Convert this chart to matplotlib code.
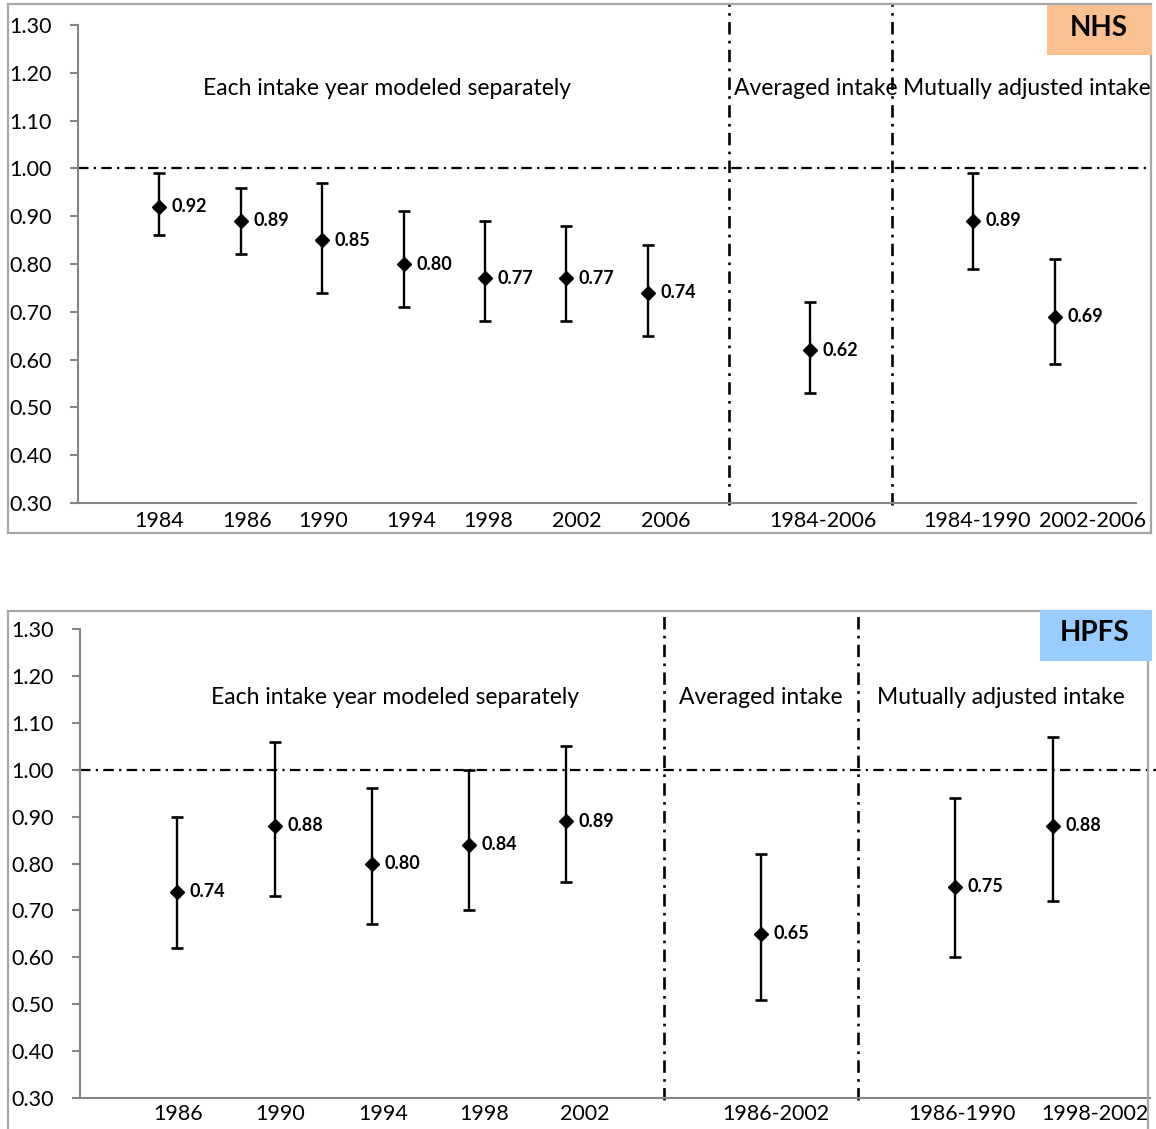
import matplotlib
matplotlib.use("Agg")
import matplotlib.pyplot as plt
from matplotlib.patches import Rectangle

plt.rcParams['font.family'] = ['Lato', 'DejaVu Sans']

# --- Data: hazard ratios with 95% CI ---
nhs_labels = ['1984', '1986', '1990', '1994', '1998', '2002', '2006',
              '1984-2006', '1984-1990', '2002-2006']
nhs_groups = [7, 1, 2]
nhs_hr = [0.92, 0.89, 0.85, 0.80, 0.77, 0.77, 0.74, 0.62, 0.89, 0.69]
nhs_lo = [0.86, 0.82, 0.74, 0.71, 0.68, 0.68, 0.65, 0.53, 0.79, 0.59]
nhs_hi = [0.99, 0.96, 0.97, 0.91, 0.89, 0.88, 0.84, 0.72, 0.99, 0.81]

hpfs_labels = ['1986', '1990', '1994', '1998', '2002',
               '1986-2002', '1986-1990', '1998-2002']
hpfs_groups = [5, 1, 2]
hpfs_hr = [0.74, 0.88, 0.80, 0.84, 0.89, 0.65, 0.75, 0.88]
hpfs_lo = [0.62, 0.73, 0.67, 0.70, 0.76, 0.51, 0.60, 0.72]
hpfs_hi = [0.90, 1.06, 0.96, 1.00, 1.05, 0.82, 0.94, 1.07]

section_titles = ['Each intake year modeled separately', 'Averaged intake',
                  'Mutually adjusted intake']
yticks = [0.30, 0.40, 0.50, 0.60, 0.70, 0.80, 0.90, 1.00, 1.10, 1.20, 1.30]

W, H = 1156, 1129
GRAY = '#868686'
DASHDOT = (0, (4.7, 2.4, 1, 2.4))

fig = plt.figure(figsize=(W / 100, H / 100), dpi=100)


def px_axes(l, t, r, b):
    return fig.add_axes([l / W, 1 - b / H, (r - l) / W, (b - t) / H])


def slot_positions(groups):
    # one category slot per estimate, an empty slot (divider) between groups
    pos, dividers, x = [], [], 1
    for i, n in enumerate(groups):
        pos += list(range(x, x + n))
        x += n
        if i < len(groups) - 1:
            dividers.append(x)
            x += 1
    return pos, dividers, x


def draw_panel(ax, labels, groups, hr, lo, hi, ref_end, div_top, xpad, shifts):
    pos, dividers, xmax = slot_positions(groups)
    ax.set_xlim(0, xmax)
    ax.set_ylim(0.3, 1.3)
    err = [[h - l for h, l in zip(hr, lo)], [u - h for h, u in zip(hr, hi)]]
    ax.errorbar(pos, hr, yerr=err, fmt='D', color='black', ms=7.5,
                elinewidth=1.7, capsize=4, capthick=1.9, zorder=3)
    for x, v in zip(pos, hr):
        ax.annotate(f"{v:.2f}", (x, v), xytext=(9, 0), textcoords='offset points',
                    ha='left', va='center', fontsize=13, fontweight='bold')
    ax.hlines(1.0, 0, ref_end, colors='black', lw=1.6, linestyles=DASHDOT,
              clip_on=False, zorder=2)
    for d in dividers:
        ax.vlines(d, 0.295, div_top, colors='black', lw=1.9, linestyles=DASHDOT,
                  clip_on=False, zorder=2)
    ax.set_xticks(pos)
    ax.set_xticklabels([])
    # category labels sit a little off the points in the original (px offsets)
    for x, lab, d in zip(pos, labels, shifts):
        ax.annotate(lab, (x, 0), xycoords=ax.get_xaxis_transform(),
                    xytext=(d * 0.72, -xpad), textcoords='offset points',
                    ha='center', va='top', fontsize=15.5)
    ax.set_yticks(yticks)
    ax.set_yticklabels([f"{t:.2f}" for t in yticks], fontsize=15.5)
    for s in ['top', 'right']:
        ax.spines[s].set_visible(False)
    for s in ['left', 'bottom']:
        ax.spines[s].set_color(GRAY)
        ax.spines[s].set_linewidth(1.5)
    ax.tick_params(axis='x', length=0)
    ax.tick_params(axis='y', length=6, width=1.5, color=GRAY, pad=13)
    ax.patch.set_visible(False)


# --- Frames and panel tags ---
fig.add_artist(Rectangle((8 / W, 1 - 533 / H), 1143 / W, 529 / H, transform=fig.transFigure,
                         fill=False, ec='#a6a6a6', lw=1.6))
fig.add_artist(Rectangle((8 / W, -0.02), 1140 / W, 1 - 611 / H + 0.02, transform=fig.transFigure,
                         fill=False, ec='#a6a6a6', lw=1.6))
fig.add_artist(Rectangle((1047 / W, 1 - 55 / H), 105 / W, 50 / H, transform=fig.transFigure,
                         fc='#fac090', ec='none'))
fig.text(1099 / W, 1 - 28 / H, 'NHS', ha='center', va='center', fontsize=20, fontweight='bold')
fig.add_artist(Rectangle((1040 / W, 1 - 661 / H), 112 / W, 51 / H, transform=fig.transFigure,
                         fc='#99ccff', ec='none'))
fig.text(1095 / W, 1 - 633 / H, 'HPFS', ha='center', va='center', fontsize=20, fontweight='bold')

# --- NHS panel ---
ax1 = px_axes(78, 25, 1136, 503)
draw_panel(ax1, nhs_labels, nhs_groups, nhs_hr, nhs_lo, nhs_hi,
           ref_end=13.17, div_top=1.344, xpad=6,
           shifts=[0, 6, 1, 8, 3, 10, 18, 12, 4, 38])
ax1.text(3.8, 1.168, section_titles[0], ha='center', va='center', fontsize=16.5)
ax1.text(8.06, 1.168, section_titles[1], ha='left', va='center', fontsize=16.5)
ax1.text(10.14, 1.168, section_titles[2], ha='left', va='center', fontsize=16.5)

# --- HPFS panel ---
ax2 = px_axes(80, 629, 1150, 1098)
draw_panel(ax2, hpfs_labels, hpfs_groups, hpfs_hr, hpfs_lo, hpfs_hi,
           ref_end=11.06, div_top=1.338, xpad=4,
           shifts=[1, 6, 11, 15, 18, 15, 7, 42])
ax2.text(3.24, 1.155, section_titles[0], ha='center', va='center', fontsize=16.5)
ax2.text(7.0, 1.155, section_titles[1], ha='center', va='center', fontsize=16.5)
ax2.text(9.47, 1.155, section_titles[2], ha='center', va='center', fontsize=16.5)

fig.savefig("out.png", dpi=100)
